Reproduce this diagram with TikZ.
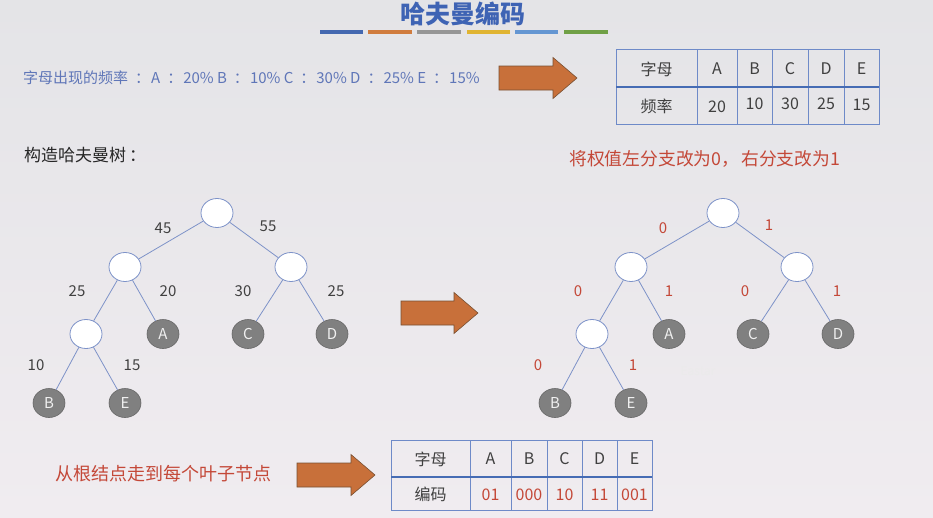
\documentclass[tikz,border=0pt]{standalone}
\usepackage{fontspec}
\setmainfont{Noto Sans CJK SC}
\usetikzlibrary{shapes.geometric}
\definecolor{bgtop}{RGB}{228,228,231}
\definecolor{bgbot}{RGB}{240,236,240}
\definecolor{titleblue}{RGB}{62,99,180}
\definecolor{txtblue}{RGB}{95,118,184}
\definecolor{txtred}{RGB}{196,72,56}
\definecolor{txtgray}{RGB}{64,64,64}
\definecolor{edgeblue}{RGB}{125,146,200}
\definecolor{leafgray}{RGB}{128,128,128}
\definecolor{arroworange}{RGB}{200,112,58}
\definecolor{arrowedge}{RGB}{120,80,50}
\definecolor{tblblue}{RGB}{110,138,200}
\definecolor{tbldark}{RGB}{70,108,180}
\definecolor{cbBlue}{RGB}{68,104,176}
\definecolor{cbOrange}{RGB}{208,124,62}
\definecolor{cbGray}{RGB}{150,150,150}
\definecolor{cbYellow}{RGB}{224,180,50}
\definecolor{cbLight}{RGB}{100,150,210}
\definecolor{cbGreen}{RGB}{112,160,70}
\newcommand\blockarrow[3]{%
  \draw[barrow] (#1,#3-12) -- (#2-24,#3-12) -- (#2-24,#3-20.5) -- (#2,#3) -- (#2-24,#3+20.5) -- (#2-24,#3+12) -- (#1,#3+12) -- cycle;}
\newcommand\fwcolon{\hspace{7pt}：\hspace{1pt}}
\tikzset{
  inner/.style={ellipse, draw=edgeblue, fill=white, line width=0.8pt, minimum width=32pt, minimum height=29pt, inner sep=0pt},
  leaf/.style={ellipse, draw=gray!80!black, fill=leafgray, line width=0.6pt, minimum width=32pt, minimum height=29pt, inner sep=0pt, text=white!88!gray, font=\fontsize{15}{15}\selectfont},
  edge/.style={draw=edgeblue, line width=0.8pt},
  wlab/.style={text=txtgray, font=\fontsize{15}{15}\selectfont},
  blab/.style={text=txtred, font=\fontsize{15}{15}\selectfont},
  barrow/.style={fill=arroworange, draw=arrowedge, line width=0.6pt},
  cell/.style={text=txtgray, font=\fontsize{16}{16}\selectfont},
  rcell/.style={text=txtred, font=\fontsize{16}{16}\selectfont},
  tline/.style={draw=tblblue, line width=0.9pt},
  cbar/.style={line width=4pt},
}
\begin{document}
\begin{tikzpicture}[x=1pt,y=-1pt]
\useasboundingbox (0,0) rectangle (933,517);
\shade[top color=bgtop, bottom color=bgbot] (0,0) rectangle (933,517);
% title
\node[text=titleblue, font=\fontsize{25}{25}\selectfont\bfseries] (title) at (463,14) {哈夫曼编码};
\draw[cbar, cbBlue] (320,31.5) -- (363,31.5);
\draw[cbar, cbOrange] (368,31.5) -- (412,31.5);
\draw[cbar, cbGray] (417,31.5) -- (461,31.5);
\draw[cbar, cbYellow] (467,31.5) -- (510,31.5);
\draw[cbar, cbLight] (515,31.5) -- (558,31.5);
\draw[cbar, cbGreen] (564,31.5) -- (608,31.5);
% frequency line
\node[anchor=west, text=txtblue, font=\fontsize{15}{15}\selectfont, inner sep=0pt] (freq) at (23,78) {字母出现的频率\fwcolon A\fwcolon 20\% B\fwcolon 10\% C\fwcolon 30\% D\fwcolon 25\% E\fwcolon 15\%};
\blockarrow{499}{577}{78}
% table 1
\draw[tline] (616,49) rectangle (879,124);
\foreach \x in {697,737,772,808,844} \draw[tline] (\x,49) -- (\x,124);
\draw[draw=tbldark, line width=1.4pt] (616,87) -- (879,87);
\node[cell] (t1h0) at (656.5,69) {字母};
\node[cell] (t1h1) at (717,69) {A};
\node[cell] (t1h2) at (754.5,69) {B};
\node[cell] (t1h3) at (790,69) {C};
\node[cell] (t1h4) at (826,69) {D};
\node[cell] (t1h5) at (861.5,69) {E};
\node[cell] (t1v0) at (656.5,106) {频率};
\node[cell] (t1v1) at (717,107) {20};
\node[cell] (t1v2) at (754.5,104) {10};
\node[cell] (t1v3) at (790,104) {30};
\node[cell] (t1v4) at (826,104) {25};
\node[cell] (t1v5) at (861.5,105) {15};
% captions
\node[anchor=west, text=black!85, font=\fontsize{17}{17}\selectfont, inner sep=0pt] (build) at (24,155) {构造哈夫曼树\hspace{3pt}：};
\node[anchor=west, text=txtred, font=\fontsize{17.8}{17.8}\selectfont, inner sep=0pt] (rule) at (569,159) {将权值左分支改为0，\hspace{2pt}右分支改为1};
% left tree
\node[inner] (r) at (217,213) {};
\node[inner] (l) at (125,267) {};
\node[inner] (rr) at (291,267) {};
\node[inner] (ll) at (86,334) {};
\node[leaf] (a) at (163,334) {A};
\node[leaf] (c) at (248,334) {C};
\node[leaf] (d) at (332,334) {D};
\node[leaf] (b) at (49,403) {B};
\node[leaf] (e) at (125,403) {E};
\draw[edge] (r) -- (l); \draw[edge] (r) -- (rr);
\draw[edge] (l) -- (ll); \draw[edge] (l) -- (a);
\draw[edge] (rr) -- (c); \draw[edge] (rr) -- (d);
\draw[edge] (ll) -- (b); \draw[edge] (ll) -- (e);
\node[wlab] (w1) at (163,228) {45};
\node[wlab] (w2) at (268,226) {55};
\node[wlab] (w3) at (77,291) {25};
\node[wlab] (w4) at (168,291) {20};
\node[wlab] (w5) at (243,291) {30};
\node[wlab] (w6) at (336,291) {25};
\node[wlab] (w7) at (36,365) {10};
\node[wlab] (w8) at (132,365) {15};
% middle arrow
\blockarrow{401}{478}{313}
% right tree
\node[inner] (R) at (723,213) {};
\node[inner] (L) at (631,267) {};
\node[inner] (RR) at (797,267) {};
\node[inner] (LL) at (592,334) {};
\node[leaf] (A) at (669,334) {A};
\node[leaf] (C) at (753,334) {C};
\node[leaf] (D) at (838,334) {D};
\node[leaf] (B) at (555,403) {B};
\node[leaf] (E) at (631,403) {E};
\draw[edge] (R) -- (L); \draw[edge] (R) -- (RR);
\draw[edge] (L) -- (LL); \draw[edge] (L) -- (A);
\draw[edge] (RR) -- (C); \draw[edge] (RR) -- (D);
\draw[edge] (LL) -- (B); \draw[edge] (LL) -- (E);
\node[blab] (b1) at (663,228) {0};
\node[blab] (b2) at (769,225) {1};
\node[blab] (b3) at (578,291) {0};
\node[blab] (b4) at (669,291) {1};
\node[blab] (b5) at (745,291) {0};
\node[blab] (b6) at (837,291) {1};
\node[blab] (b7) at (538,365) {0};
\node[blab] (b8) at (633,365) {1};
\node[text=black!8, font=\fontsize{12}{12}\selectfont] (wm) at (698,371) {Eastar};
% bottom
\node[anchor=west, text=txtred, font=\fontsize{18}{18}\selectfont, inner sep=0pt] (walk) at (55,474) {从根结点走到每个叶子节点};
\blockarrow{297}{375}{475}
\draw[tline] (391,440) rectangle (652,510);
\foreach \x in {470,511,547,582,617} \draw[tline] (\x,440) -- (\x,510);
\draw[draw=tbldark, line width=1.4pt] (391,477) -- (652,477);
\node[cell] (t2h0) at (430.5,459) {字母};
\node[cell] (t2h1) at (490.5,459) {A};
\node[cell] (t2h2) at (529,459) {B};
\node[cell] (t2h3) at (564.5,459) {C};
\node[cell] (t2h4) at (599.5,459) {D};
\node[cell] (t2h5) at (634.5,459) {E};
\node[cell] (t2v0) at (430.5,494) {编码};
\node[rcell] (t2v1) at (490.5,495) {01};
\node[rcell] (t2v2) at (529,495) {000};
\node[rcell] (t2v3) at (564.5,495) {10};
\node[rcell] (t2v4) at (599.5,495) {11};
\node[rcell] (t2v5) at (634.5,495) {001};
\end{tikzpicture}
\end{document}
